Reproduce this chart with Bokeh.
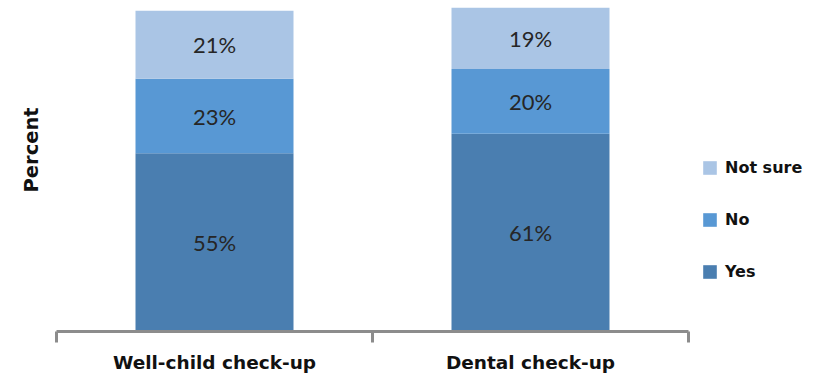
import math
from bokeh.plotting import figure
from bokeh.models import (Range1d, LinearAxis, FixedTicker, Legend, LegendItem,
                          Title, ColumnDataSource)
from bokeh.core.properties import value
from bokeh.embed import file_html
from bokeh.resources import INLINE

# ---- data ----
categories = ["Well-child check-up", "Dental check-up"]
yes = [55, 61]
no = [23, 20]
not_sure = [21, 19]
series_names = ["Yes", "No", "Not sure"]
series_colors = ["#4A7EB0", "#5898D4", "#AAC5E5"]
y_label = "Percent"

n = len(categories)
xs = [i + 0.5 for i in range(n)]  # category slot centres
data = {"x": xs, "cat": categories, "Yes": yes, "No": no, "Not sure": not_sure}
src = ColumnDataSource(data)

# x range: category slots span [0, n]; extra room on the right for the legend
p = figure(x_range=Range1d(0, n * 759 / 632), y_range=Range1d(0, 100),
           width=815, height=382,
           output_backend="svg", toolbar_location=None, x_axis_location=None,
           y_axis_location=None, min_border_left=56, min_border_right=0,
           min_border_top=7, min_border_bottom=51)
p.outline_line_color = None
p.xgrid.visible = False
p.ygrid.visible = False

renderers = p.vbar_stack(series_names, x="x", width=0.5, source=src,
                         color=series_colors, line_color=None)

# value labels in the middle of each segment
lx, ly, lt = [], [], []
for i in range(n):
    base = 0
    for vals in (yes, no, not_sure):
        v = vals[i]
        lx.append(xs[i])
        ly.append(base + v / 2)
        lt.append(f"{v}%")
        base += v
p.text(x=lx, y=ly, text=lt, text_align="center", text_baseline="middle",
       text_font=value("Lato"), text_font_size="22px", text_color="#262626")

# x axis with ticks between categories
ax = LinearAxis(ticker=FixedTicker(ticks=xs, minor_ticks=list(range(n + 1))),
                bounds=(0, n))
ax.major_label_overrides = {x: c for x, c in zip(xs, categories)}
ax.major_tick_line_color = None
ax.major_tick_in = 0
ax.major_tick_out = 0
ax.minor_tick_in = 0
ax.minor_tick_out = 11
ax.minor_tick_line_color = "#8C8C8C"
ax.minor_tick_line_width = 3
ax.axis_line_color = "#8C8C8C"
ax.axis_line_width = 3
ax.major_label_standoff = 9
ax.major_label_text_font = "DejaVu Sans"
ax.major_label_text_font_style = "bold"
ax.major_label_text_font_size = "18.5px"
ax.major_label_text_color = "#111111"
p.add_layout(ax, "below")

# y label
p.add_layout(Title(text=y_label, align="left", offset=139, standoff=28,
                   text_font="DejaVu Sans", text_font_style="bold",
                   text_font_size="19.5px", text_color="#111111"), "left")

# legend
items = [LegendItem(label=name, renderers=[r])
         for name, r in zip(series_names, renderers)][::-1]
legend = Legend(items=items, location=(645, 50), padding=0, margin=0, spacing=33,
                glyph_width=17, glyph_height=17, label_height=19, label_standoff=7,
                border_line_color=None, background_fill_alpha=0,
                label_text_font="DejaVu Sans", label_text_font_style="bold",
                label_text_font_size="16px", label_text_color="#111111")
p.add_layout(legend, "center")

open("out.html", "w").write(file_html(p, INLINE))
